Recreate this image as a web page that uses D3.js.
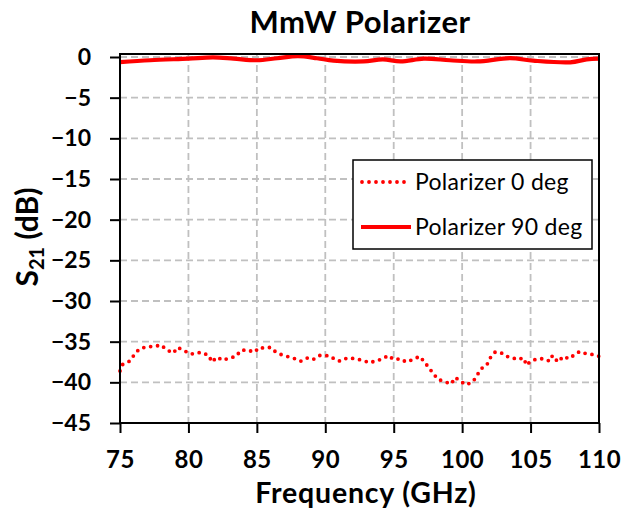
<!DOCTYPE html>
<html>
<head>
<meta charset="utf-8">
<script src="https://cdnjs.cloudflare.com/ajax/libs/d3/7.8.5/d3.min.js"></script>
<style>
  body { margin: 0; background: #fff; }
  svg { display: block; font-family: Lato, 'Open Sans', sans-serif; }
</style>
</head>
<body>
<svg id="chart" width="624" height="521"></svg>
<script>
'use strict';

// Polarizer 0 deg (dotted)
var freq0 = [75.0, 75.2, 75.7, 76.0, 76.4, 77.0, 77.5, 78.0, 78.4, 78.9, 79.2, 79.7,
  80.1, 80.5, 80.9, 81.5, 81.7, 82.1, 82.5, 83.0, 83.5, 83.8, 84.3, 84.8, 85.2, 85.5,
  86.0, 86.4, 86.8, 87.4, 87.8, 88.2, 88.7, 89.1, 89.6, 90.0, 90.4, 90.7, 91.1, 91.6,
  92.2, 92.7, 93.3, 93.7, 94.1, 94.6, 95.0, 95.5, 95.9, 96.4, 96.9, 97.3, 97.6, 97.9,
  98.2, 98.7, 99.2, 99.5, 99.9, 100.3, 100.8, 101.1, 101.4, 101.8, 102.0, 102.4, 102.8,
  103.2, 103.6, 104.0, 104.5, 104.7, 105.0, 105.5, 106.0, 106.4, 106.6, 107.0, 107.4,
  107.8, 108.3, 108.6, 109.1, 109.7, 110.0];
var s21Deg0 = [-38.6, -37.8, -37.4, -36.7, -35.9, -35.6, -35.6, -35.4, -36.0, -36.4, -35.7, -36.1,
  -36.5, -36.5, -36.3, -36.7, -37.5, -36.9, -37.3, -37.0, -36.8, -36.1, -36.0, -36.3, -35.7, -35.8,
  -35.7, -36.3, -36.6, -36.9, -37.1, -37.4, -37.0, -37.2, -36.7, -36.7, -36.8, -37.2, -37.4, -37.0,
  -37.1, -37.3, -37.6, -37.3, -37.2, -36.7, -37.2, -37.1, -37.5, -37.2, -36.8, -37.6, -38.3, -38.9,
  -39.6, -39.9, -40.2, -39.4, -39.9, -40.3, -39.9, -39.1, -38.3, -37.9, -37.1, -36.3, -36.3,
  -36.8, -36.9, -37.2, -37.0, -37.9, -37.4, -37.1, -37.1, -37.4, -36.7, -37.5, -36.8,
  -37.1, -36.5, -36.2, -36.5, -36.6, -36.8];

// Polarizer 90 deg (solid)
var freq90 = [75.0, 77.2, 80.0, 81.8, 83.3, 85.0, 86.5, 88.0, 89.4, 90.6, 92.8, 94.2,
  95.5, 97.2, 99.1, 101.1, 103.5, 105.2, 107.9, 109.1, 110.0];
var s21Deg90 = [-0.64, -0.4, -0.2, -0.05, -0.2, -0.4, -0.15, 0.1, -0.15, -0.45, -0.55, -0.3,
  -0.55, -0.2, -0.4, -0.55, -0.15, -0.45, -0.65, -0.3, -0.2];

var xTicks = [75, 80, 85, 90, 95, 100, 105, 110];
var yTicks = [-45, -40, -35, -30, -25, -20, -15, -10, -5, 0];
var seriesNames = ['Polarizer 0 deg', 'Polarizer 90 deg'];

var red = '#ff0000';
var svg = d3.select('#chart');

var xScale = d3.scaleLinear()
    .domain([75, 110])
    .range([120, 599]);

var yScale = d3.scaleLinear()
    .domain([-45, 0])
    .range([423, 57]);

function zip(xs, ys) {
  return xs.map(function (x, i) {
    return { f: x, v: ys[i] };
  });
}

// Grid
svg.append('g')
    .selectAll('line')
    .data(yTicks.slice(1))
  .enter().append('line')
    .attr('x1', xScale(75))
    .attr('x2', xScale(110))
    .attr('y1', function (d) { return yScale(d); })
    .attr('y2', function (d) { return yScale(d); })
    .attr('stroke', '#c0c0c0')
    .attr('stroke-width', 1.8)
    .attr('stroke-dasharray', '7 4');

svg.append('g')
    .selectAll('line')
    .data(xTicks.slice(1, -1))
  .enter().append('line')
    .attr('x1', function (d) { return xScale(d); })
    .attr('x2', function (d) { return xScale(d); })
    .attr('y1', yScale(0) - 3)
    .attr('y2', yScale(-45))
    .attr('stroke', '#c0c0c0')
    .attr('stroke-width', 1.8)
    .attr('stroke-dasharray', '7 4');

// Lines
var line = d3.line()
    .x(function (d) { return xScale(d.f); })
    .y(function (d) { return yScale(d.v); });

svg.append('path')
    .datum(zip(freq0, s21Deg0))
    .attr('d', line)
    .attr('fill', 'none')
    .attr('stroke', red)
    .attr('stroke-width', 3.8)
    .attr('stroke-linecap', 'round')
    .attr('stroke-dasharray', '0 7');

svg.append('path')
    .datum(zip(freq90, s21Deg90))
    .attr('d', line.curve(d3.curveCatmullRom))
    .attr('fill', 'none')
    .attr('stroke', red)
    .attr('stroke-width', 4.2);

// Frame
svg.append('rect')
    .attr('x', xScale(75))
    .attr('y', yScale(0) - 3)
    .attr('width', xScale(110) - xScale(75))
    .attr('height', yScale(-45) - yScale(0) + 3)
    .attr('fill', 'none')
    .attr('stroke', '#000')
    .attr('stroke-width', 2);

// Axes
var xAxis = d3.axisBottom(xScale)
    .tickValues(xTicks)
    .tickSize(10)
    .tickPadding(18);

var yAxis = d3.axisLeft(yScale)
    .tickValues(yTicks)
    .tickSize(10)
    .tickPadding(19);

var gx = svg.append('g')
    .attr('transform', 'translate(0,' + yScale(-45) + ')')
    .call(xAxis);

var gy = svg.append('g')
    .attr('transform', 'translate(' + xScale(75) + ',0)')
    .call(yAxis);

[gx, gy].forEach(function (g) {
  g.select('.domain').remove();
  g.selectAll('line').attr('stroke', '#000').attr('stroke-width', 2);
  g.selectAll('text')
      .attr('fill', '#000')
      .style('font-family', 'Lato, sans-serif')
      .style('font-weight', 'bold');
});
gx.selectAll('text').style('font-size', '24px').style('letter-spacing', '0.5px');
gy.selectAll('text').style('font-size', '23px');

// Titles
svg.append('text')
    .attr('x', 360)
    .attr('y', 33)
    .attr('text-anchor', 'middle')
    .style('font-size', '31px')
    .style('font-weight', 'bold')
    .style('letter-spacing', '0.5px')
    .text('MmW Polarizer');

svg.append('text')
    .attr('x', 366)
    .attr('y', 503)
    .attr('text-anchor', 'middle')
    .style('font-size', '28.5px')
    .style('font-weight', 'bold')
    .style('letter-spacing', '0.8px')
    .text('Frequency (GHz)');

var yLabel = svg.append('text')
    .attr('transform', 'translate(38,237) rotate(-90)')
    .attr('text-anchor', 'middle')
    .style('font-size', '30px')
    .style('font-weight', 'bold');
yLabel.append('tspan').text('S');
yLabel.append('tspan')
    .attr('dy', 6)
    .style('font-size', '20px')
    .text('21');
yLabel.append('tspan')
    .attr('dy', -6)
    .text(' (dB)');

// Legend
var legend = svg.append('g');

legend.append('rect')
    .attr('x', 353)
    .attr('y', 160)
    .attr('width', 239)
    .attr('height', 89)
    .attr('fill', '#fff')
    .attr('stroke', '#000')
    .attr('stroke-width', 1.5);

legend.append('line')
    .attr('x1', 362)
    .attr('x2', 405)
    .attr('y1', 182)
    .attr('y2', 182)
    .attr('stroke', red)
    .attr('stroke-width', 3.8)
    .attr('stroke-linecap', 'round')
    .attr('stroke-dasharray', '0 7');

legend.append('line')
    .attr('x1', 361)
    .attr('x2', 411)
    .attr('y1', 227)
    .attr('y2', 227)
    .attr('stroke', red)
    .attr('stroke-width', 4.2);

legend.selectAll('text.item')
    .data(seriesNames)
  .enter().append('text')
    .attr('class', 'item')
    .attr('x', 415)
    .attr('y', function (d, i) { return 190 + i * 45; })
    .style('font-size', '23px')
    .style('letter-spacing', '0.3px')
    .text(function (d) { return d; });
</script>
</body>
</html>
